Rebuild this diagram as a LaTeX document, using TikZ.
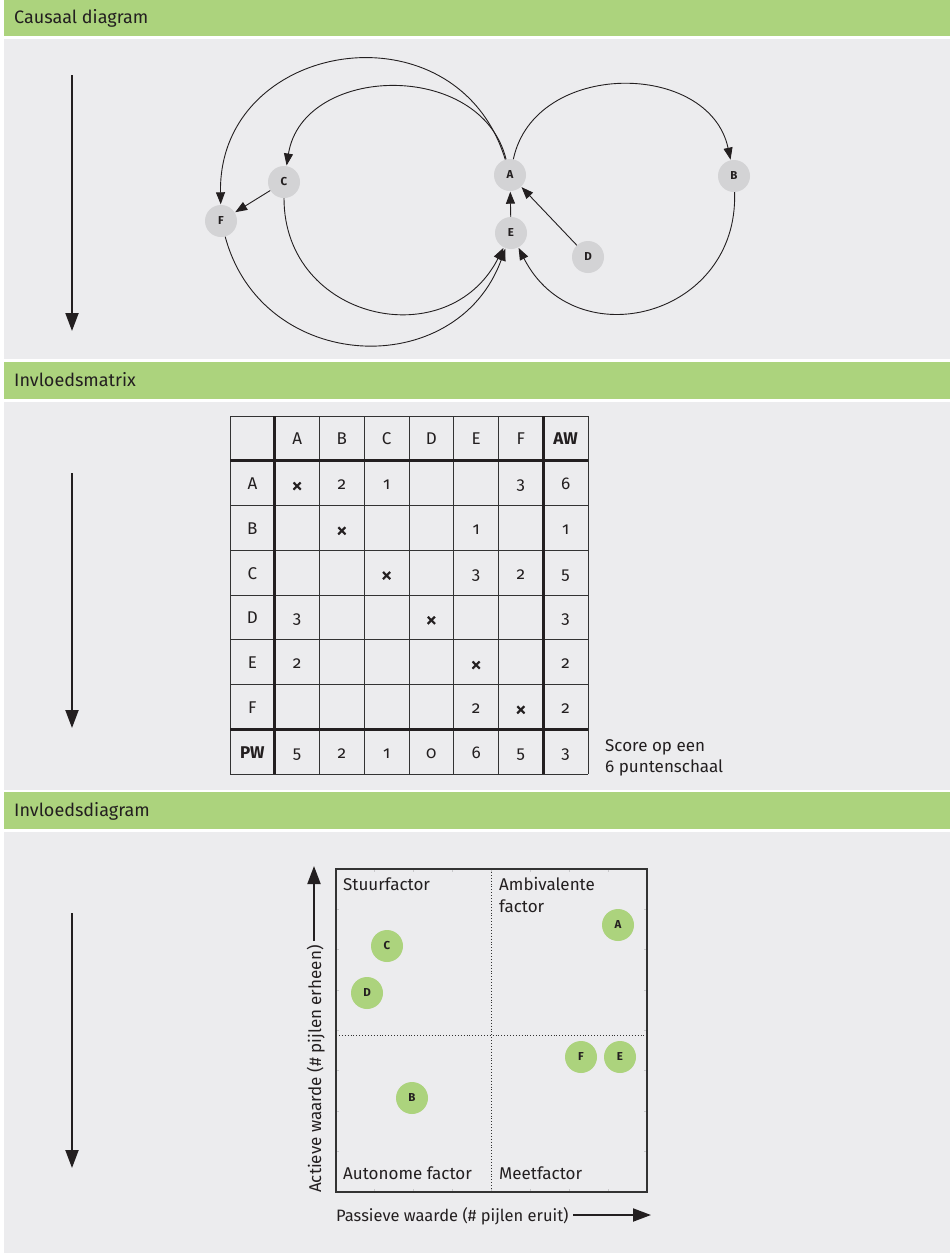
\documentclass[tikz,border=0pt]{standalone}
\usepackage{fontspec}
\setmainfont{Fira Sans}[Numbers=OldStyle]
\usetikzlibrary{arrows.meta}
\definecolor{bandgreen}{HTML}{ACD37D}
\definecolor{panel}{HTML}{ECECEE}
\definecolor{nodegray}{HTML}{D3D3D5}
\definecolor{ink}{HTML}{231F20}
\definecolor{frame}{HTML}{333333}
\definecolor{tick}{HTML}{C8C8CA}
\tikzset{
  band/.style={fill=bandgreen},
  panelbg/.style={fill=panel},
  title/.style={anchor=base west, text=ink, font=\fontsize{18}{22}\selectfont, inner sep=0pt},
  bigarrow/.style={draw=ink, line width=2pt, -{Triangle[length=18pt,width=13pt]}},
  carrow/.style={draw=ink, line width=0.9pt, -{Triangle[length=12pt,width=9pt]}, shorten >=0.5pt},
  cnode/.style={circle, fill=nodegray, minimum size=32pt, inner sep=0pt, text=ink, font=\bfseries\fontsize{11.5}{12}\selectfont},
  gnode/.style={circle, fill=bandgreen, minimum size=32pt, inner sep=0pt, text=ink, font=\bfseries\fontsize{11.5}{12}\selectfont},
  thin grid/.style={draw=frame, line width=1pt},
  thick grid/.style={draw=ink, line width=2.6pt},
  mtext/.style={anchor=base, text=ink, inner sep=0pt, font=\fontsize{17}{20}\selectfont},
  label/.style={anchor=base west, text=ink, inner sep=0pt, font=\fontsize{17}{22}\selectfont},
}
\newcommand\crossmark{\raisebox{-3.5pt}{\fontsize{23}{23}\selectfont\addfontfeatures{FakeBold=1.2}×}}
\begin{document}
\begin{tikzpicture}[x=1pt,y=1pt]
\useasboundingbox (0,0) rectangle (950,-1253);
\fill[white] (0,0) rectangle (950,-1253);
% bands and panels
\fill[band] (4,0) rectangle (950,-36);
\fill[panelbg] (4,-39) rectangle (950,-359);
\fill[band] (4,-362) rectangle (950,-399);
\fill[panelbg] (4,-402) rectangle (950,-790);
\fill[band] (4,-792) rectangle (950,-829);
\fill[panelbg] (4,-832) rectangle (950,-1253);
\node[title] (t1) at (14,-23) {Causaal diagram};
\node[title] (t2) at (14,-386) {Invloedsmatrix};
\node[title] (t3) at (14,-816) {Invloedsdiagram};
% left arrows
\coordinate (s1) at (72,-75);  \coordinate (e1) at (72,-331);
\coordinate (s2) at (72,-473); \coordinate (e2) at (72,-728);
\coordinate (s3) at (72,-913); \coordinate (e3) at (72,-1168);
\draw[bigarrow] (s1) -- (e1);
\draw[bigarrow] (s2) -- (e2);
\draw[bigarrow] (s3) -- (e3);
% ---------------- causal diagram
\node[cnode] (A) at (510,-175) {A};
\node[cnode] (B) at (734,-176) {B};
\node[cnode] (C) at (284,-182) {C};
\node[cnode] (D) at (588,-257) {D};
\node[cnode] (E) at (511,-233) {E};
\node[cnode] (F) at (221,-221) {F};
\draw[carrow] (A) to[out=78,in=102,looseness=1.2] (B);
\draw[carrow] (B) to[out=-88,in=-63,looseness=1.43] (E);
\draw[carrow] (A) to[out=104,in=81,looseness=1.2] (C);
\draw[carrow] (C) to[out=-90,in=-117,looseness=1.39] (E);
\draw[carrow] (A) to[out=107,in=91,looseness=1.47] (F);
\draw[carrow] (F) to[out=-75,in=-110,looseness=1.3] (E);
\draw[carrow] (C) -- (F);
\draw[carrow] (E) -- (A);
\draw[carrow] (D) -- (A);
% ---------------- matrix
\foreach \i in {0,...,8} {
  \draw[thin grid] ({230+44.75*\i},-416) -- ({230+44.75*\i},-774);
  \draw[thin grid] (230,{-416-44.75*\i}) -- (588,{-416-44.75*\i});
}
\draw[thick grid] ({230+44.75},-416) -- ({230+44.75},-774);
\draw[thick grid] ({230+44.75*7},-416) -- ({230+44.75*7},-774);
\draw[thick grid] (230,{-416-44.75}) -- (588,{-416-44.75});
\draw[thick grid] (230,{-416-44.75*7}) -- (588,{-416-44.75*7});
\foreach \c/\r/\t in {1/0/A,2/0/B,3/0/C,4/0/D,5/0/E,6/0/F,7/0/{\textbf{AW}},
  0/1/A,0/2/B,0/3/C,0/4/D,0/5/E,0/6/F,0/7/{\textbf{PW}},
  1/1/\crossmark,2/1/2,3/1/1,6/1/3,7/1/6,
  2/2/\crossmark,5/2/1,7/2/1,
  3/3/\crossmark,5/3/3,6/3/2,7/3/5,
  1/4/3,4/4/\crossmark,7/4/3,
  1/5/2,5/5/\crossmark,7/5/2,
  5/6/2,6/6/\crossmark,7/6/2,
  1/7/5,2/7/2,3/7/1,4/7/0,5/7/6,6/7/5,7/7/3} {
  \node[mtext] (m\c\r) at ({230+44.75*(\c+0.5)},{-416-44.75*(\r+0.5)-6.5}) {\t};
}
\node[label] (score1) at (605,-751) {Score op een};
\node[label] (score2) at (605,-772) {6 puntenschaal};
% ---------------- influence diagram
\foreach \i in {1,...,7} {
  \draw[tick, line width=0.8pt] ({336+38.875*\i},-869) -- ++(0,-3);
  \draw[tick, line width=0.8pt] ({336+38.875*\i},-1192) -- ++(0,3);
  \draw[tick, line width=0.8pt] (336,{-869-40.375*\i}) -- ++(3,0);
  \draw[tick, line width=0.8pt] (647,{-869-40.375*\i}) -- ++(-3,0);
}
\draw[frame, line width=0.9pt, dotted] (491,-869) -- (491,-1192);
\draw[frame, line width=0.9pt, dotted] (336,-1035) -- (647,-1035);
\draw[frame, line width=2pt] (336,-869) rectangle (647,-1192);
\node[label] (q1) at (343,-890) {Stuurfactor};
\node[label] (q2a) at (499,-890) {Ambivalente};
\node[label] (q2b) at (499,-912) {factor};
\node[label] (q3) at (343,-1179) {Autonome factor};
\node[label] (q4) at (499,-1179) {Meetfactor};
\node[gnode] (gA) at (618,-925) {A};
\node[gnode] (gC) at (387,-946) {C};
\node[gnode] (gD) at (367,-993) {D};
\node[gnode] (gF) at (581,-1057) {F};
\node[gnode] (gE) at (620,-1057) {E};
\node[gnode] (gB) at (412,-1098) {B};
\node[label, rotate=90] (ylab) at (321,-1193) {Actieve waarde (\# pijlen erheen)};
\coordinate (ys) at (314,-941);
\coordinate (ye) at (314,-866);
\draw[bigarrow] (ys) -- (ye);
\node[label, font=\fontsize{16.5}{20}\selectfont] (xlab) at (336,-1221) {Passieve waarde (\# pijlen eruit)};
\coordinate (xs) at (573,-1215);
\coordinate (xe) at (651,-1215);
\draw[bigarrow] (xs) -- (xe);
\end{tikzpicture}
\end{document}
